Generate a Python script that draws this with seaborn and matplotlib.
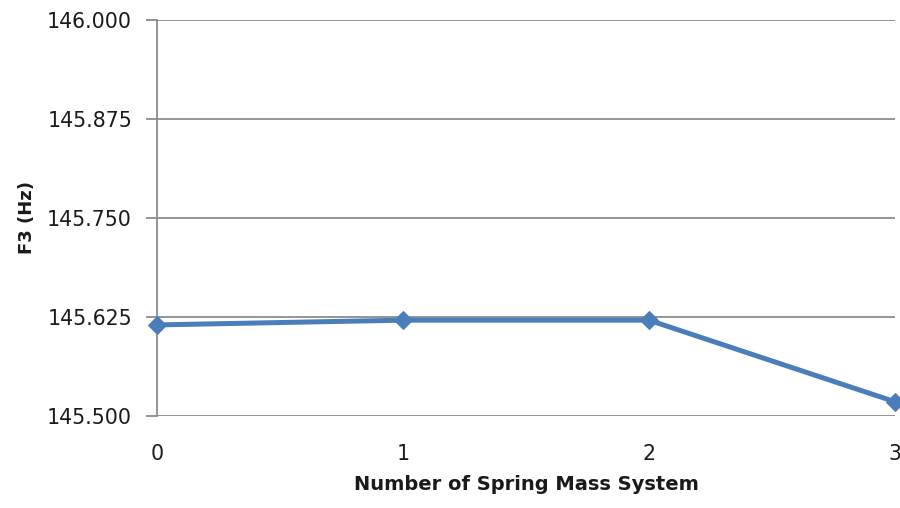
import matplotlib
matplotlib.use("Agg")
import matplotlib.pyplot as plt
import seaborn as sns
import pandas as pd

x_values = [0, 1, 2, 3]
f3_values = [145.615, 145.621, 145.621, 145.518]
y_ticks = [145.500, 145.625, 145.750, 145.875, 146.000]
y_tick_labels = ["145.500", "145.625", "145.750", "145.875", "146.000"]
x_label = "Number of Spring Mass System"
y_label = "F3 (Hz)"

sns.set_theme(style="white")
plt.rcParams['font.family'] = ['DejaVu Sans']

df = pd.DataFrame({"n": x_values, "f3": f3_values})

fig = plt.figure(figsize=(9, 5.08), dpi=100)
ax = fig.add_axes([157/900, 1-416/508, (895-157)/900, (416-20)/508])

sns.lineplot(data=df, x="n", y="f3", ax=ax, color="#4a7ebb", linewidth=3.6,
             marker="D", markersize=9, markeredgecolor="#4a7ebb", clip_on=False, zorder=5)

ax.set_xlim(0, 3)
ax.set_ylim(145.5, 146.0)
ax.set_yticks(y_ticks)
ax.set_yticklabels(y_tick_labels)
ax.set_xticks(x_values)
ax.set_xticklabels([str(v) for v in x_values])

ax.grid(axis="y", color="#8c8c8c", linewidth=1.3)
ax.set_axisbelow(True)
for side in ["top", "right", "bottom"]:
    ax.spines[side].set_visible(False)
ax.spines["left"].set_color("#8c8c8c")
ax.spines["left"].set_linewidth(1.3)

ax.tick_params(axis="y", which="both", left=True, length=8, width=1.3, color="#8c8c8c",
               labelsize=14.8, labelcolor="#1a1a1a", pad=10)
ax.tick_params(axis="x", bottom=False, labelsize=14.8, labelcolor="#1a1a1a", pad=14)

ax.set_xlabel(x_label, fontsize=14, fontweight="bold", color="#1a1a1a", labelpad=8)
ax.set_ylabel(y_label, fontsize=13, fontweight="bold", color="#1a1a1a", labelpad=8)

fig.savefig("out.png", dpi=100)
